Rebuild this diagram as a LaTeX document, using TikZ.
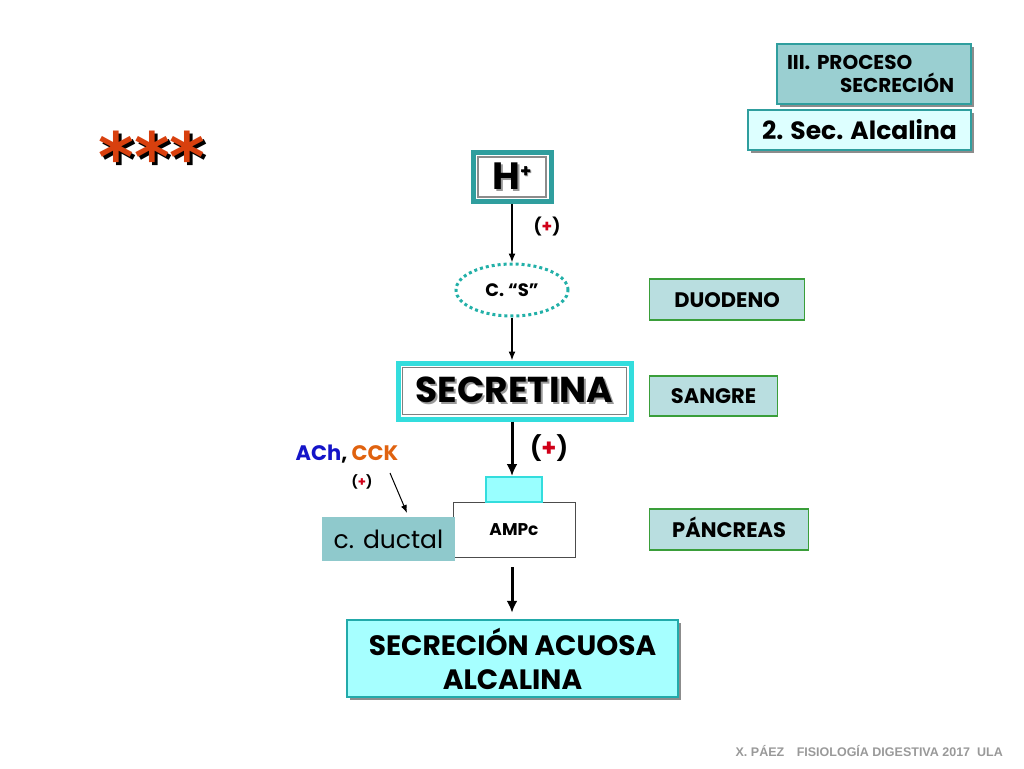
\documentclass[tikz,border=0pt]{standalone}
\usepackage{fontspec}
\setmainfont{Poppins}
\newfontfamily\footfont{Liberation Sans}
\newfontfamily\starfont{DejaVu Sans}
\usetikzlibrary{shapes.geometric,arrows.meta,shadows}
\definecolor{tealb}{HTML}{2F9E9E}
\definecolor{procfill}{HTML}{9ACFD1}
\definecolor{secfill}{HTML}{DDFFFF}
\definecolor{cyanb}{HTML}{33DDDD}
\definecolor{smallfill}{HTML}{99FFFF}
\definecolor{ductfill}{HTML}{8FC9CC}
\definecolor{labfill}{HTML}{B9DEE0}
\definecolor{labgreen}{HTML}{3A9E3A}
\definecolor{finfill}{HTML}{A6FFFF}
\definecolor{finb}{HTML}{22AAAA}
\definecolor{dotc}{HTML}{22B0A8}
\definecolor{starred}{HTML}{D8400E}
\definecolor{achblue}{HTML}{1414C8}
\definecolor{cckorange}{HTML}{E0620F}
\definecolor{plusred}{HTML}{D00018}
\newcommand\shtext[2][1.6pt]{\rlap{\kern#1\raisebox{-#1}{\textcolor{black!40}{#2}}}#2}
\newcommand\rp{\textcolor{plusred}{+}}
\tikzset{
  x=1pt,y=-1pt,
  shbox/.style={drop shadow={shadow xshift=3pt,shadow yshift=-3pt,fill=black!45,opacity=1}},
  lab/.style={draw=labgreen,line width=1.2pt,fill=labfill,inner sep=0pt,
    font=\fontsize{21}{24}\selectfont\bfseries,text height=15pt,text depth=0pt,anchor=west},
  thin arrow/.style={-{Latex[length=9pt,width=7pt]},line width=1.5pt},
  thick arrow/.style={-{Latex[length=12pt,width=11pt]},line width=3pt},
}
\begin{document}
\begin{tikzpicture}
\useasboundingbox (0,0) rectangle (1024,768);
% top right boxes
\node[shbox,draw=tealb,line width=2.5pt,fill=procfill,minimum width=194pt,minimum height=60pt,
  inner sep=0pt,text width=174pt,align=left,font=\fontsize{20}{23}\selectfont\bfseries] (proc) at (874,74)
  {III. PROCESO\\\hspace*{53pt}SECRECIÓN};
\node[shbox,draw=tealb,line width=2.5pt,fill=secfill,minimum width=223pt,minimum height=40pt,
  inner sep=0pt,font=\fontsize{25}{28}\selectfont\bfseries] (alc) at (859.5,130)
  {2. Sec. Alcalina};
% stars
\node[font=\starfont\fontsize{68}{68}\selectfont\bfseries,inner sep=0pt,text=starred] (stars) at (152,158)
  {\rlap{\kern3pt\raisebox{-3pt}{\textcolor{black}{***}}}***};
% H+
\node[draw=tealb,line width=5pt,fill=white,minimum width=78pt,minimum height=49pt,inner sep=0pt] (hfr) at (512,177) {};
\node[draw=black!45,line width=2.5pt,minimum width=68pt,minimum height=40pt,inner sep=0pt,
  font=\fontsize{38}{38}\selectfont\bfseries] (h) at (512,177)
  {\shtext[2pt]{H}\raisebox{12pt}{\fontsize{18}{18}\selectfont\shtext[1pt]{+}}};
% C. S
\node[ellipse,draw=dotc,line width=3pt,dash pattern=on 3pt off 3pt,minimum width=112pt,minimum height=52pt,
  inner sep=0pt,font=\fontsize{18}{18}\selectfont\bfseries] (cs) at (512,290) {C. “S”};
% SECRETINA
\node[draw=black!45,line width=2pt,minimum width=227pt,minimum height=50pt,inner sep=0pt,xshift=4pt,yshift=-4pt] (secsh) at (514.5,391) {};
\node[draw=cyanb,line width=5pt,fill=white,minimum width=233pt,minimum height=56pt,inner sep=0pt] (secr) at (514.5,391) {};
\node[draw=black!50,line width=1.5pt,minimum width=224pt,minimum height=47pt,inner sep=0pt,
  font=\fontsize{36}{36}\selectfont\bfseries] (secrt) at (514.5,391) {\shtext[2pt]{SECRETINA}};
% AMPc cell
\node[draw=black!70,line width=1pt,fill=white,minimum width=122pt,minimum height=55pt,inner sep=0pt,
  font=\fontsize{17}{17}\selectfont\bfseries] (amp) at (514,529.5) {\raisebox{-6pt}{AMPc}};
\node[draw=cyanb,line width=2pt,fill=smallfill,minimum width=56pt,minimum height=25pt,inner sep=0pt] (rec) at (513.5,489.5) {};
\node[fill=ductfill,minimum width=133pt,minimum height=44pt,inner sep=0pt,
  font=\fontsize{25}{25}\selectfont] (duct) at (388.5,539) {c. ductal};
% ACh CCK
\node[font=\fontsize{21}{21}\selectfont\bfseries,inner sep=0pt] (ach) at (347,454)
  {\textcolor{achblue}{ACh}, \textcolor{cckorange}{CCK}};
\node[font=\fontsize{13}{13}\selectfont\bfseries,inner sep=0pt] (achp) at (362,482) {(\rp)};
% final box
\node[shbox,draw=finb,line width=2.5pt,fill=finfill,minimum width=331pt,minimum height=77pt,inner sep=0pt,
  align=center,font=\fontsize{28}{34}\selectfont\bfseries] (fin) at (512.5,658.5)
  {SECRECIÓN ACUOSA\\ALCALINA};
% right labels
\node[lab,minimum width=155pt,minimum height=41pt] (duo) at (649,299.5) {DUODENO};
\node[lab,minimum width=128pt,minimum height=40pt] (sang) at (649,396) {SANGRE};
\node[lab,minimum width=159pt,minimum height=41pt] (panc) at (649,529.5) {PÁNCREAS};
% arrows
\draw[thin arrow] (hfr.south) -- (cs.north);
\node[font=\fontsize{17}{17}\selectfont\bfseries,inner sep=0pt] (p1) at (547,227) {(\rp)};
\draw[thin arrow] (cs.south) -- (cs.south |- secr.north);
\draw[thick arrow] (cs.south |- secr.south) -- (cs.south |- rec.north);
\node[font=\fontsize{24}{24}\selectfont\bfseries,inner sep=0pt] (p2) at (549,448) {(\rp)};
\coordinate (a1) at (390,473);
\coordinate (a2) at (407,513);
\draw[-{Latex[length=8pt,width=6pt]},line width=1pt] (a1) -- (a2);
\coordinate (a3) at (512,567);
\draw[thick arrow] (a3) -- ([yshift=6pt]a3 |- fin.north);
% footer
\node[font=\footfont\fontsize{12.5}{13}\selectfont\bfseries,text=black!40,anchor=east,inner sep=0pt] (foot) at (1003,751)
  {X. PÁEZ\quad FISIOLOGÍA DIGESTIVA 2017\ \ ULA};
\end{tikzpicture}
\end{document}
